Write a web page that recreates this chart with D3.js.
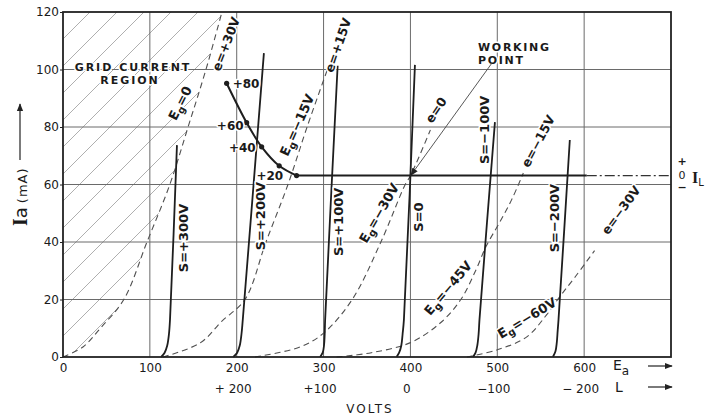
<!DOCTYPE html>
<html>
<head>
<meta charset="utf-8">
<script src="https://cdn.jsdelivr.net/npm/d3@7"></script>
<style>
  body { margin: 0; background: #fff; }
  svg { display: block; font-family: "DejaVu Sans", sans-serif; }
</style>
</head>
<body>
<svg></svg>
<script>
// ---- values (Ea in volts, Ia in mA) ----
let xTicks = [0, 100, 200, 300, 400, 500, 600]
let yTicks = [0, 20, 40, 60, 80, 100, 120]
let gridX = [100, 200, 300, 400, 500, 600]
let gridY = [20, 40, 60, 80, 100]
let lTickValues = [200, 300, 400, 500, 600]
let lTickLabels = ["+ 200", "+100", "0", "\u2212100", "\u2212 200"]

// screen voltage lines (solid)
let sNames = ["S=+300V", "S=+200V", "S=+100V", "S=0", "S=\u2212100V", "S=\u2212200V"]
let sCurves = [
  [[113, 0], [117, 1.5], [120, 4], [122, 8], [123.2, 13], [131.2, 73.7]],
  [[196, 0], [200.5, 1.5], [203.5, 4], [205.5, 8], [207, 13], [231.3, 105.7]],
  [[296, 0], [299, 1.5], [300.5, 4], [301.3, 8], [301.8, 13], [316.2, 101.3]],
  [[384, 0], [387, 1.5], [389.5, 4], [391, 8], [392.5, 13], [405.2, 101.6]],
  [[472, 0], [475, 1.5], [477, 4], [478.5, 8], [479.5, 13], [497.3, 81.7]],
  [[564, 0], [567, 2], [568.5, 5], [569.5, 9], [570.5, 13], [583.5, 75.5]]
]

// grid voltage curves (dashed)
let egNames = ["0", "\u221215V", "\u221230V", "\u221245V", "\u221260V"]
let eNames = ["e=+30V", "e=+15V", "e=0", "e=\u221215V", "e=\u221230V"]
let egCurves = [
  [[0, 0], [23, 3.5], [43, 10], [70, 20], [96.7, 40], [123, 60], [144, 80], [164.6, 100], [183, 120]],
  [[115, 0], [158, 4.9], [183, 12.5], [209.5, 20], [233.7, 40], [259, 60], [281, 80], [305, 100.5]],
  [[221, 0], [273, 3.5], [300, 8.3], [333, 20], [366, 40], [394, 60], [400, 63], [423, 79]],
  [[315, 0], [355, 1.5], [400, 5], [435, 12], [458, 20], [475, 30], [487, 38.4], [503, 47], [517, 55], [530, 64]],
  [[465, 0], [500, 2.5], [534, 7], [555, 14], [572, 21], [590, 28], [612, 37]]
]

// load curve and flat load line
let loadNames = ["+80", "+60", "+40", "+20"]
let loadPoints = [[188.4, 95.2], [211.4, 81.5], [228.7, 73.1], [248.9, 66.5], [268.9, 63.1]]
let loadFlat = [[268.9, 63.1], [603, 63.1]]
let loadDashed = [[603, 63.1], [700, 63.1]]
let workingPoint = [400.5, 63.2]

// label anchors (data units) and angles
let sLabelAt = [[138.2, 41.4], [226.8, 49], [316.6, 47], [408.7, 48.7], [484.7, 79], [565.3, 48.3]]
let egLabelAt = [[134.7, 88.3, -63], [269.4, 80.7, -66], [363.8, 50.1, -60], [443.2, 24, -50], [534.2, 13.6, -31]]
let eLabelAt = [[187.6, 108.9, -69], [316.6, 108.5, -71], [429.4, 85.9, -56], [546.9, 75.1, -62], [642.4, 51.1, -54]]
let loadLabelShift = [[6, 5, "start"], [-3, 7, "end"], [-6, 5, "end"], [4, 14, "end"]]

let width = 715
let height = 417
let margin = { top: 12, right: 44, bottom: 60, left: 63 }

let svg = d3.select("svg").attr("width", width).attr("height", height)

let xScale = d3.scaleLinear().domain([0, 700]).range([margin.left, width - margin.right])
let yScale = d3.scaleLinear().domain([0, 120]).range([height - margin.bottom, margin.top])

let line = d3.line()
  .x(d => xScale(d[0]))
  .y(d => yScale(d[1]))
  .curve(d3.curveCatmullRom.alpha(0.5))

let straight = d3.line().x(d => xScale(d[0])).y(d => yScale(d[1]))

let defs = svg.append("defs")
defs.append("marker")
  .attr("id", "arrow")
  .attr("viewBox", "0 0 10 10")
  .attr("refX", 9).attr("refY", 5)
  .attr("markerWidth", 8).attr("markerHeight", 8)
  .attr("markerUnits", "userSpaceOnUse")
  .attr("orient", "auto")
  .append("path").attr("d", "M0,1 L10,5 L0,9 Z").attr("fill", "#222")

// grid current region (hatched, left of Eg=0)
defs.append("clipPath").attr("id", "gridRegion")
  .append("path")
  .attr("d", line(egCurves[0]) + "L" + xScale(0) + "," + yScale(120) + "Z")

let drawHatch = () => {
  let x0 = xScale(0), x1 = xScale(200), y0 = yScale(0), y1 = yScale(120)
  let h = y0 - y1
  let offsets = d3.range(0, (x1 - x0) + h, 27)
  svg.append("g")
    .attr("clip-path", "url(#gridRegion)")
    .selectAll("line")
    .data(offsets)
    .enter()
    .append("line")
    .attr("x1", d => x0 + d - h)
    .attr("y1", y0)
    .attr("x2", d => x0 + d)
    .attr("y2", y1)
    .attr("stroke", "#9a9a9a")
    .attr("stroke-width", 0.8)
}

let drawGrid = () => {
  svg.append("g").selectAll("line")
    .data(gridX).enter().append("line")
    .attr("x1", d => xScale(d)).attr("x2", d => xScale(d))
    .attr("y1", yScale(0)).attr("y2", yScale(120))
    .attr("stroke", "#6a6a6a").attr("stroke-width", 1)
  svg.append("g").selectAll("line")
    .data(gridY).enter().append("line")
    .attr("x1", xScale(0)).attr("x2", xScale(700))
    .attr("y1", d => yScale(d)).attr("y2", d => yScale(d))
    .attr("stroke", "#6a6a6a").attr("stroke-width", 1)
}

let drawFrame = () => {
  svg.append("rect")
    .attr("x", xScale(0)).attr("y", yScale(120))
    .attr("width", xScale(700) - xScale(0))
    .attr("height", yScale(0) - yScale(120))
    .attr("fill", "none").attr("stroke", "#222").attr("stroke-width", 1.8)
}

let drawAxes = () => {
  let yAxis = d3.axisLeft(yScale).tickValues(yTicks).tickSize(3).tickPadding(1)
  let gy = svg.append("g")
    .attr("transform", "translate(" + xScale(0) + ",0)")
    .call(yAxis)
  gy.select(".domain").remove()
  gy.selectAll("line").attr("stroke", "#222")
  gy.selectAll("text").attr("font-size", 12).attr("fill", "#1a1a1a")
    .attr("font-family", "DejaVu Sans")

  let xAxis = d3.axisBottom(xScale).tickValues(xTicks).tickSize(0).tickPadding(6)
  let gx = svg.append("g")
    .attr("transform", "translate(0," + yScale(0) + ")")
    .call(xAxis)
  gx.select(".domain").remove()
  gx.selectAll("text").attr("font-size", 12).attr("fill", "#1a1a1a")
    .attr("font-family", "DejaVu Sans")

  let lAxis = d3.axisBottom(xScale).tickValues(lTickValues).tickSize(0)
    .tickPadding(0).tickFormat((d, i) => lTickLabels[i])
  let gl = svg.append("g")
    .attr("transform", "translate(-4," + (yScale(0) + 27) + ")")
    .call(lAxis)
  gl.select(".domain").remove()
  gl.selectAll("text").attr("font-size", 12).attr("fill", "#1a1a1a")
    .attr("font-family", "DejaVu Sans")

  // Ea and L arrows
  let ax = svg.append("g").attr("fill", "#1a1a1a")
  let ea = ax.append("text").attr("x", 613).attr("y", 370).attr("font-size", 14)
  ea.append("tspan").text("E")
  ea.append("tspan").attr("font-size", 12).attr("dy", 5).text("a")
  ax.append("text").attr("x", 615).attr("y", 392).attr("font-size", 14).text("L")
  ax.append("line").attr("x1", 648).attr("x2", xScale(700) + 1).attr("y1", 366).attr("y2", 366)
    .attr("stroke", "#222").attr("stroke-width", 1.2).attr("marker-end", "url(#arrow)")
  ax.append("line").attr("x1", 648).attr("x2", xScale(700) + 1).attr("y1", 387).attr("y2", 387)
    .attr("stroke", "#222").attr("stroke-width", 1.2).attr("marker-end", "url(#arrow)")

  svg.append("text").attr("x", 370).attr("y", 413).attr("text-anchor", "middle")
    .attr("font-size", 12).attr("letter-spacing", 2).attr("fill", "#1a1a1a").text("VOLTS")

  // y label
  let yl = svg.append("text")
    .attr("transform", "translate(27,226) rotate(-90)")
    .attr("fill", "#1a1a1a")
  yl.append("tspan").attr("font-family", "Liberation Serif").attr("font-weight", "bold")
    .attr("font-size", 20).text("I")
  yl.append("tspan").attr("font-size", 18).text("a")
  yl.append("tspan").attr("font-size", 13).attr("dx", 4).attr("letter-spacing", 1).text("(mA)")
  svg.append("line").attr("x1", 20).attr("x2", 20).attr("y1", 160).attr("y2", 104)
    .attr("stroke", "#222").attr("stroke-width", 1.2).attr("marker-end", "url(#arrow)")
}

let halo = sel => sel.attr("stroke", "#fff").attr("stroke-width", 3)
  .attr("paint-order", "stroke").attr("stroke-linejoin", "round")

let drawCurves = () => {
  svg.append("g").selectAll("path")
    .data(egCurves).enter().append("path")
    .attr("d", line)
    .attr("fill", "none").attr("stroke", "#505050")
    .attr("stroke-width", 1.1).attr("stroke-dasharray", "6,4")

  svg.append("g").selectAll("path")
    .data(sCurves).enter().append("path")
    .attr("d", line)
    .attr("fill", "none").attr("stroke", "#1e1e1e").attr("stroke-width", 1.8)

  // load curve
  svg.append("path").attr("d", line(loadPoints))
    .attr("fill", "none").attr("stroke", "#1e1e1e").attr("stroke-width", 2)
  svg.append("path").attr("d", straight(loadFlat))
    .attr("fill", "none").attr("stroke", "#1e1e1e").attr("stroke-width", 2)
  svg.append("path").attr("d", straight(loadDashed))
    .attr("fill", "none").attr("stroke", "#333").attr("stroke-width", 1.3)
    .attr("stroke-dasharray", "10,3,2,3")
  svg.append("g").selectAll("circle")
    .data(loadPoints).enter().append("circle")
    .attr("cx", d => xScale(d[0])).attr("cy", d => yScale(d[1]))
    .attr("r", 2.6).attr("fill", "#1e1e1e")
}

let drawLabels = () => {
  let g = svg.append("g").attr("fill", "#1a1a1a")

  g.append("text").attr("x", 133).attr("y", 71).attr("text-anchor", "middle")
    .attr("font-size", 11).attr("font-weight", "bold").attr("letter-spacing", 2)
    .call(halo).text("GRID CURRENT")
  g.append("text").attr("x", 130).attr("y", 84).attr("text-anchor", "middle")
    .attr("font-size", 11).attr("font-weight", "bold").attr("letter-spacing", 2)
    .call(halo).text("REGION")

  g.append("text").attr("x", 478).attr("y", 51)
    .attr("font-size", 11).attr("font-weight", "bold").attr("letter-spacing", 1.7)
    .call(halo).text("WORKING")
  g.append("text").attr("x", 478).attr("y", 64)
    .attr("font-size", 11).attr("font-weight", "bold").attr("letter-spacing", 1.7)
    .call(halo).text("POINT")
  svg.append("line")
    .attr("x1", xScale(494)).attr("y1", yScale(102.3))
    .attr("x2", xScale(workingPoint[0])).attr("y2", yScale(workingPoint[1]))
    .attr("stroke", "#444").attr("stroke-width", 0.9).attr("marker-end", "url(#arrow)")

  // S labels
  g.selectAll(".slabel").data(sNames).enter().append("text")
    .attr("class", "slabel")
    .attr("transform", (d, i) => "translate(" + xScale(sLabelAt[i][0]) + "," + yScale(sLabelAt[i][1]) + ") rotate(-90)")
    .attr("text-anchor", "middle").attr("dy", "0.36em")
    .attr("font-size", 13).attr("font-weight", "bold")
    .call(halo).text(d => d)

  // Eg labels with subscript g
  egNames.forEach((name, i) => {
    let t = g.append("text")
      .attr("transform", "translate(" + xScale(egLabelAt[i][0]) + "," + yScale(egLabelAt[i][1]) + ") rotate(" + egLabelAt[i][2] + ")")
      .attr("text-anchor", "middle").attr("dy", "0.36em")
      .attr("font-size", 13).attr("font-weight", "bold")
      .call(halo)
    t.append("tspan").text("E")
    t.append("tspan").attr("font-size", 10).attr("dy", 3).text("g")
    t.append("tspan").attr("dy", -3).text("=" + name)
  })

  g.selectAll(".elabel").data(eNames).enter().append("text")
    .attr("class", "elabel")
    .attr("transform", (d, i) => "translate(" + xScale(eLabelAt[i][0]) + "," + yScale(eLabelAt[i][1]) + ") rotate(" + eLabelAt[i][2] + ")")
    .attr("text-anchor", "middle").attr("dy", "0.36em")
    .attr("font-size", 12.5).attr("font-weight", "bold")
    .call(halo).text(d => d)

  // load point labels
  g.selectAll(".llabel").data(loadNames).enter().append("text")
    .attr("class", "llabel")
    .attr("x", (d, i) => xScale(loadPoints[i][0]) + loadLabelShift[i][0])
    .attr("y", (d, i) => yScale(loadPoints[i][1]) + loadLabelShift[i][1])
    .attr("text-anchor", (d, i) => loadLabelShift[i][2])
    .attr("font-size", 12).attr("font-weight", "bold")
    .call(halo).text(d => d)

  // I_L marker at right
  let xr = xScale(700) + 11
  g.append("text").attr("x", xr).attr("y", yScale(63.1) - 11).attr("text-anchor", "middle")
    .attr("font-size", 11).attr("font-weight", "bold").text("+")
  g.append("text").attr("x", xr).attr("y", yScale(63.1) + 3).attr("text-anchor", "middle")
    .attr("font-size", 11).text("0")
  g.append("text").attr("x", xr).attr("y", yScale(63.1) + 15).attr("text-anchor", "middle")
    .attr("font-size", 11).attr("font-weight", "bold").text("\u2212")
  let il = g.append("text").attr("x", xr + 10).attr("y", yScale(63.1) + 7)
  il.append("tspan").attr("font-family", "Liberation Serif").attr("font-weight", "bold")
    .attr("font-size", 16).text("I")
  il.append("tspan").attr("font-size", 10).attr("dy", 3).text("L")
}

drawHatch()
drawGrid()
drawCurves()
drawFrame()
drawAxes()
drawLabels()
</script>
</body>
</html>
